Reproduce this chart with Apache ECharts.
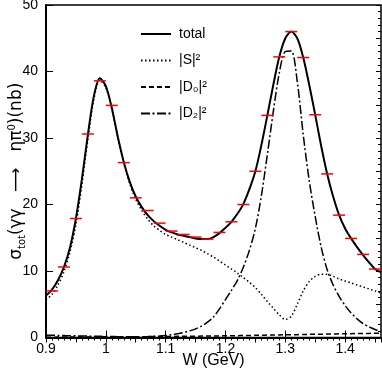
<!DOCTYPE html>
<html>
<head>
<meta charset="utf-8">
<script src="https://cdn.jsdelivr.net/npm/echarts@6/dist/echarts.min.js"></script>
<style>
  html, body { margin: 0; padding: 0; background: #fff; }
  #chart { width: 382px; height: 370px; }
</style>
</head>
<body>
<div id="chart"></div>
<script>
// W grid of the model curves (GeV)
var W = [0.90, 0.91, 0.92, 0.93, 0.94, 0.95, 0.96, 0.97, 0.98, 0.99,
         1.00, 1.01, 1.02, 1.03, 1.04, 1.05, 1.06, 1.07, 1.08, 1.09,
         1.10, 1.11, 1.12, 1.13, 1.14, 1.15, 1.16, 1.17, 1.18, 1.19,
         1.20, 1.21, 1.22, 1.23, 1.24, 1.25, 1.26, 1.27, 1.28, 1.29,
         1.30, 1.31, 1.32, 1.33, 1.34, 1.35, 1.36, 1.37, 1.38, 1.39,
         1.40, 1.41, 1.42, 1.43, 1.44, 1.45, 1.46];
var total = [6.3, 7.2, 8.6, 10.6, 13.5, 17.9, 23.8, 30.5, 36.3, 39.0,
             37.8, 34.5, 30.2, 26.4, 23.4, 21.2, 19.6, 18.4, 17.5, 16.8,
             16.2, 15.8, 15.5, 15.3, 15.1, 14.9, 14.8, 14.8, 15.1, 15.7,
             16.5, 17.4, 18.6, 20.1, 22.3, 25.0, 28.9, 33.4, 38.0, 42.2,
             45.0, 46.0, 45.0, 42.1, 38.0, 33.5, 28.8, 24.6, 21.2, 18.4,
             16.4, 14.9, 13.6, 12.4, 11.3, 10.3, 9.8];
var sWave = [5.6, 6.5, 7.9, 9.9, 12.8, 17.0, 23.0, 29.8, 35.8, 38.7,
             37.6, 34.4, 30.1, 26.2, 23.1, 20.8, 19.1, 17.8, 16.8, 16.1,
             15.5, 15.1, 14.7, 14.3, 13.9, 13.5, 13.1, 12.6, 12.1, 11.5,
             10.9, 10.3, 9.7, 9.0, 8.3, 7.5, 6.5, 5.4, 4.4, 3.4,
             2.7, 3.2, 5.0, 7.0, 8.4, 9.2, 9.5, 9.5, 9.2, 8.8,
             8.5, 8.2, 7.9, 7.6, 7.3, 7.0, 6.7];
var d0Wave = [0.05, 0.05, 0.06, 0.06, 0.07, 0.07, 0.08, 0.08, 0.09, 0.09,
              0.10, 0.10, 0.11, 0.11, 0.12, 0.12, 0.13, 0.13, 0.14, 0.14,
              0.15, 0.16, 0.17, 0.18, 0.19, 0.20, 0.21, 0.22, 0.23, 0.24,
              0.25, 0.27, 0.28, 0.30, 0.31, 0.33, 0.34, 0.36, 0.37, 0.39,
              0.40, 0.42, 0.43, 0.45, 0.47, 0.48, 0.50, 0.52, 0.53, 0.55,
              0.56, 0.58, 0.59, 0.61, 0.62, 0.64, 0.65];
var d2Wave = [0.35, 0.33, 0.31, 0.29, 0.27, 0.25, 0.23, 0.21, 0.19, 0.17,
              0.15, 0.14, 0.13, 0.12, 0.11, 0.11, 0.12, 0.14, 0.17, 0.22,
              0.30, 0.40, 0.55, 0.75, 1.0, 1.3, 1.7, 2.3, 3.1, 4.3,
              5.7, 7.1, 8.6, 10.6, 13.1, 16.4, 21.3, 27.5, 34.0, 39.8,
              43.0, 43.1, 38.5, 30.5, 23.6, 18.2, 13.6, 10.2, 7.9, 6.2,
              4.8, 3.7, 2.8, 2.1, 1.6, 1.2, 0.9];

// measured points (bin centres, nb)
var dataW = [0.91, 0.93, 0.95, 0.97, 0.99, 1.01, 1.03, 1.05, 1.07, 1.09,
             1.11, 1.13, 1.15, 1.17, 1.19, 1.21, 1.23, 1.25, 1.27, 1.29,
             1.31, 1.33, 1.35, 1.37, 1.39, 1.41, 1.43, 1.45];
var dataSigma = [7.0, 10.6, 17.9, 30.6, 38.6, 34.9, 26.3, 21.0, 19.1, 17.2,
                 16.0, 15.5, 15.1, 14.8, 15.8, 17.4, 20.0, 25.0, 33.4, 42.2,
                 46.0, 42.1, 33.5, 24.6, 18.4, 14.9, 12.5, 10.3];
var binHalf = 0.01;

function pairs(xs, ys) {
    var out = [];
    for (var i = 0; i < xs.length; i++) out.push([xs[i], ys[i]]);
    return out;
}

var FONT = 'Liberation Sans, DejaVu Sans, sans-serif';
var WIDE = 'DejaVu Sans, sans-serif';
var chart = echarts.init(document.getElementById('chart'));

function tickAxis(min, max, interval, len) {
    return {
        type: 'value', min: min, max: max, interval: interval,
        axisLine: { show: false },
        axisTick: { show: true, inside: true, length: len, lineStyle: { color: '#000', width: 1 } },
        axisLabel: { show: false },
        splitLine: { show: false }
    };
}

var option = {
    animation: false,
    backgroundColor: '#fff',
    grid: {
        left: 46, right: 1, top: 5, bottom: 32.5,
        containLabel: false, outerBoundsMode: 'none',
        show: true, borderColor: '#000', borderWidth: 1.5
    },
    legend: {
        orient: 'vertical', left: 135, top: 22,
        itemWidth: 30, itemHeight: 14, itemGap: 12.5,
        data: ['total', '|S|²', '|D₀|²', '|D₂|²'],
        itemStyle: { opacity: 0 },
        textStyle: { fontFamily: FONT, fontSize: 14, color: '#000', padding: [0, 0, 0, 3] }
    },
    xAxis: [
        {
            type: 'value', min: 0.9, max: 1.46, interval: 0.1,
            name: 'W (GeV)', nameLocation: 'middle', nameGap: 15, nameMoveOverlap: false,
            nameTextStyle: { fontFamily: FONT, fontSize: 16, color: '#000' },
            axisLine: { show: true, lineStyle: { color: '#000', width: 2 } },
            axisTick: { show: true, inside: true, length: 7, lineStyle: { color: '#000' } },
            axisLabel: {
                fontFamily: FONT, fontSize: 14, color: '#000', margin: 5, showMaxLabel: false,
                formatter: function (v) { return String(+v.toFixed(2)); }
            },
            splitLine: { show: false }
        },
        tickAxis(0.9, 1.46, 0.05, 5),
        tickAxis(0.9, 1.46, 0.01, 3)
    ],
    yAxis: [
        {
            type: 'value', min: 0, max: 50, interval: 10,
            name: '{a|σ}{s|tot}{a|(γγ   ⟶   ηπ}{p|0}{a|)(nb)}',
            nameLocation: 'middle', nameGap: 19, nameMoveOverlap: false,
            nameTextStyle: {
                rich: {
                    a: { fontFamily: WIDE, fontSize: 17, color: '#000', lineHeight: 20, verticalAlign: 'middle' },
                    s: { fontFamily: WIDE, fontSize: 10, color: '#000', lineHeight: 20, verticalAlign: 'bottom' },
                    p: { fontFamily: WIDE, fontSize: 10, color: '#000', lineHeight: 20, verticalAlign: 'top' }
                }
            },
            axisLine: { show: true, lineStyle: { color: '#000', width: 2 } },
            axisTick: { show: true, inside: true, length: 7, lineStyle: { color: '#000' } },
            axisLabel: { fontFamily: FONT, fontSize: 14, color: '#000', margin: 8 },
            splitLine: { show: false }
        },
        tickAxis(0, 50, 5, 5),
        tickAxis(0, 50, 1, 3)
    ],
    series: [
        {
            name: 'total', type: 'line', symbol: 'none', smooth: 0.3,
            data: pairs(W, total),
            lineStyle: { color: '#000', width: 2, type: 'solid' }, itemStyle: { color: '#000' }, z: 5
        },
        {
            name: '|S|²', type: 'line', symbol: 'none', smooth: 0.3,
            data: pairs(W, sWave),
            lineStyle: { color: '#000', width: 1.5, type: [1.5, 2.5] }, itemStyle: { color: '#000' }
        },
        {
            name: '|D₀|²', type: 'line', symbol: 'none', smooth: 0.3,
            data: pairs(W, d0Wave),
            lineStyle: { color: '#000', width: 1.5, type: [5, 3] }, itemStyle: { color: '#000' }
        },
        {
            name: '|D₂|²', type: 'line', symbol: 'none', smooth: 0.3,
            data: pairs(W, d2Wave),
            lineStyle: { color: '#000', width: 1.5, type: [9, 2.5, 2, 2.5] }, itemStyle: { color: '#000' }
        },
        {
            name: 'data', type: 'custom', z: 6,
            data: pairs(dataW, dataSigma),
            renderItem: function (params, api) {
                var p1 = api.coord([api.value(0) - binHalf, api.value(1)]);
                var p2 = api.coord([api.value(0) + binHalf, api.value(1)]);
                return {
                    type: 'line',
                    shape: { x1: p1[0], y1: p1[1], x2: p2[0], y2: p2[1] },
                    style: { stroke: '#ff0000', lineWidth: 1.5 }
                };
            }
        }
    ]
};
chart.setOption(option);
</script>
</body>
</html>
